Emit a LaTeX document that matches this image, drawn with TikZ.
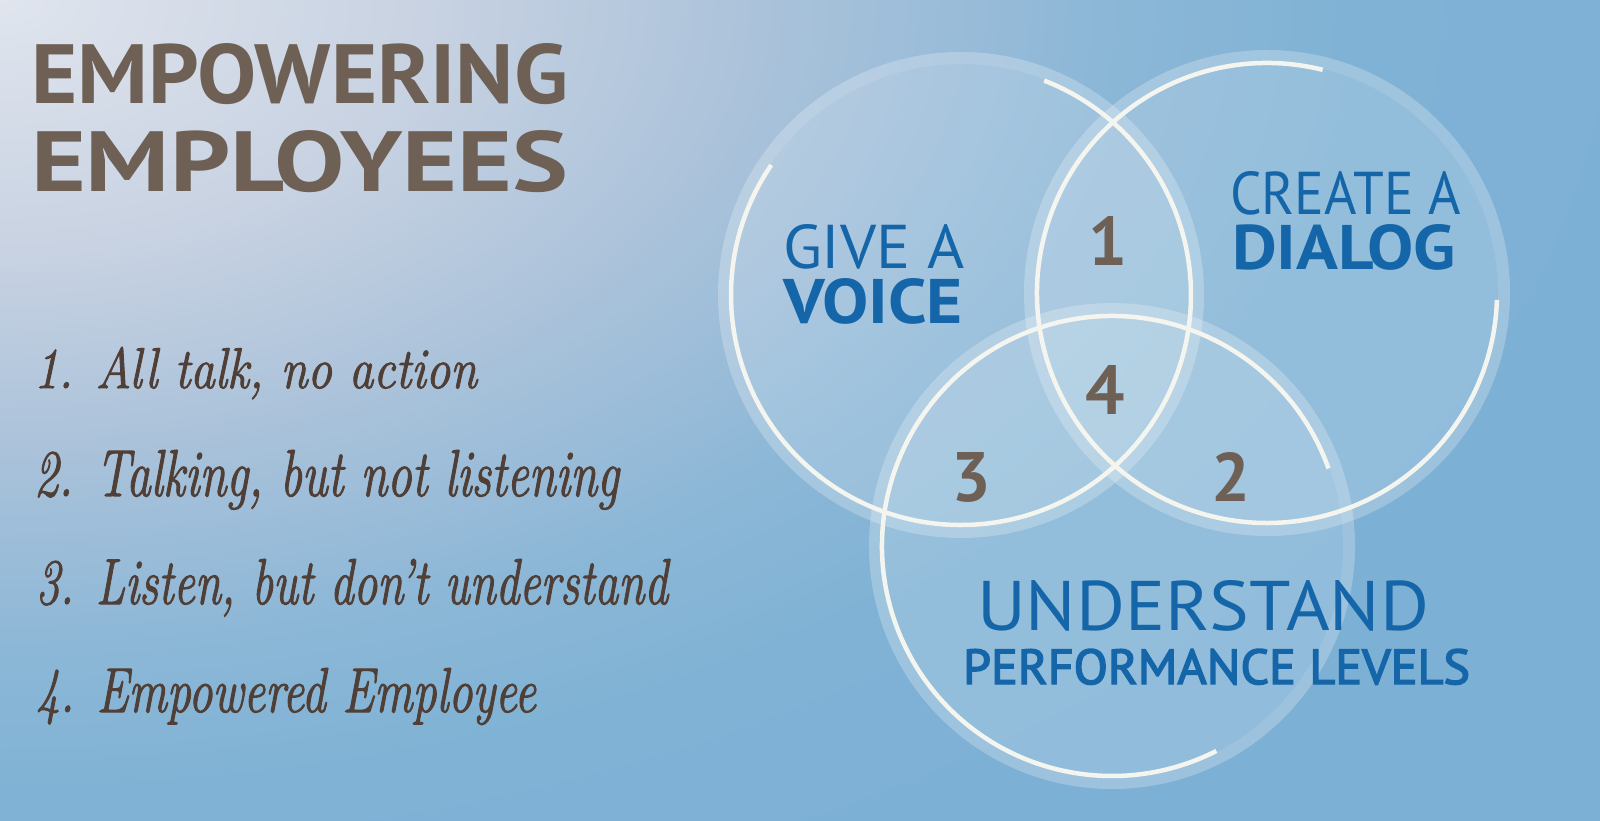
\documentclass[tikz,border=0pt]{standalone}
\usepackage{fontspec}
\usepackage{graphicx}
\newfontfamily\ptsans{PT Sans}
\newfontfamily\ptsemi[FakeBold=3]{PT Sans}
\newfontfamily\handfont[FakeBold=1.8,Ligatures=TeX]{Latin Modern Roman}
\definecolor{lblue}{HTML}{1565A9}
\definecolor{brownmain}{HTML}{6F6056}
\definecolor{listbrown}{HTML}{4F3F36}
\definecolor{ringwhite}{HTML}{F5F5F0}
\definecolor{bgblue}{HTML}{7DB0D5}
\pgfdeclareradialshading{bgrad}{\pgfpoint{0bp}{0bp}}{rgb(0bp)=(0.878,0.898,0.933); rgb(6.25bp)=(0.784,0.824,0.886); rgb(11.25bp)=(0.667,0.761,0.855); rgb(16.25bp)=(0.549,0.718,0.843); rgb(20bp)=(0.498,0.698,0.835); rgb(25bp)=(0.490,0.690,0.835); rgb(50bp)=(0.490,0.690,0.835)}
\begin{document}
\begin{tikzpicture}[x=1pt,y=-1pt,
  every node/.style={inner sep=0pt,outer sep=0pt},
  disc/.style={fill=white,fill opacity=0.16},
  band/.style={draw=white,draw opacity=0.10,line width=12pt},
  ring/.style={draw=ringwhite,line width=4.5pt},
  lbl/.style={text=lblue,anchor=base west},
  lblpair/.style={text=lblue,anchor=north west,align=left,font=\ptsans\fontsize{40}{55}\selectfont},
  lblreg/.style={lbl,font=\ptsans\fontsize{40}{44}\selectfont},
  lblsemi/.style={lbl,font=\ptsemi\fontsize{40}{44}\selectfont},
  engr/.style={text=brownmain,font=\ptsans\bfseries\fontsize{60}{64}\selectfont},
  listtxt/.style={text=listbrown,anchor=base west,font=\handfont\itshape\fontsize{40}{44}\selectfont}]
\useasboundingbox (0,0) rectangle (1600,821);
\fill[bgblue] (0,0) rectangle (1600,821);
\begin{scope}
  \clip (0,0) rectangle (1600,821);
  \shade[shading=bgrad] (0,0) ellipse[x radius=1700, y radius=1000];
\end{scope}

% circle centres
\coordinate (c1) at (961,295);
\coordinate (c2) at (1267,293);
\coordinate (c3) at (1112,546);

% translucent discs
\fill[disc] (c1) circle[radius=243];
\fill[disc] (c2) circle[radius=243];
\fill[disc] (c3) circle[radius=243];
\draw[band] (c1) circle[radius=237];
\draw[band] (c2) circle[radius=237];
\draw[band] (c3) circle[radius=237];

% white open rings
\draw[ring] (c1) ++(-145.6:230) arc[start angle=-145.6, end angle=-428.8, radius=230];
\draw[ring] (c2) ++(-76:230) arc[start angle=-76, end angle=-358.3, radius=230];
\draw[ring] (c3) ++(-19.7:230) arc[start angle=-19.7, end angle=-297, radius=230];

% title
\node[engr,anchor=base west] (t1) at (31,104) {\resizebox{537pt}{60pt}{EMPOWERING}};
\node[engr,anchor=base west] (t2) at (31,191) {\resizebox{537pt}{61pt}{EMPLOYEES}};

% list
\node[listtxt] (l1) at (34,388) {\resizebox{443pt}{41pt}{1. All talk, no action}};
\node[listtxt] (l2) at (34,496) {\resizebox{585pt}{46pt}{2. Talking, but not listening}};
\node[listtxt] (l3) at (36,604) {\resizebox{632pt}{45pt}{3. Listen, but don’t understand}};
\node[listtxt] (l4) at (36,712) {\resizebox{500pt}{44pt}{4. Empowered Employee}};

% region numbers
\node[engr,anchor=base] (n1) at (1108,265) {\resizebox{!}{49pt}{1}};
\node[engr,anchor=base] (n4) at (1105,414) {\resizebox{!}{49pt}{4}};
\node[engr,anchor=base] (n3) at (971,501) {\resizebox{!}{49pt}{3}};
\node[engr,anchor=base] (n2) at (1231,501) {\resizebox{!}{49pt}{2}};

% circle labels
\node[lblpair] (voice) at (783,224) {\resizebox{182pt}{44pt}{GIVE A}\\\resizebox{180pt}{45pt}{\bfseries VOICE}};
\node[lblpair] (dialog) at (1230,171) {\resizebox{231pt}{43pt}{CREATE A}\\\hspace*{2pt}\resizebox{224pt}{45pt}{\bfseries DIALOG}};
\node[lblreg] (under) at (977,630) {\resizebox{452pt}{50pt}{UNDERSTAND}};
\node[lblsemi] (perf) at (963,684) {\resizebox{507pt}{35pt}{PERFORMANCE LEVELS}};
\end{tikzpicture}
\end{document}
